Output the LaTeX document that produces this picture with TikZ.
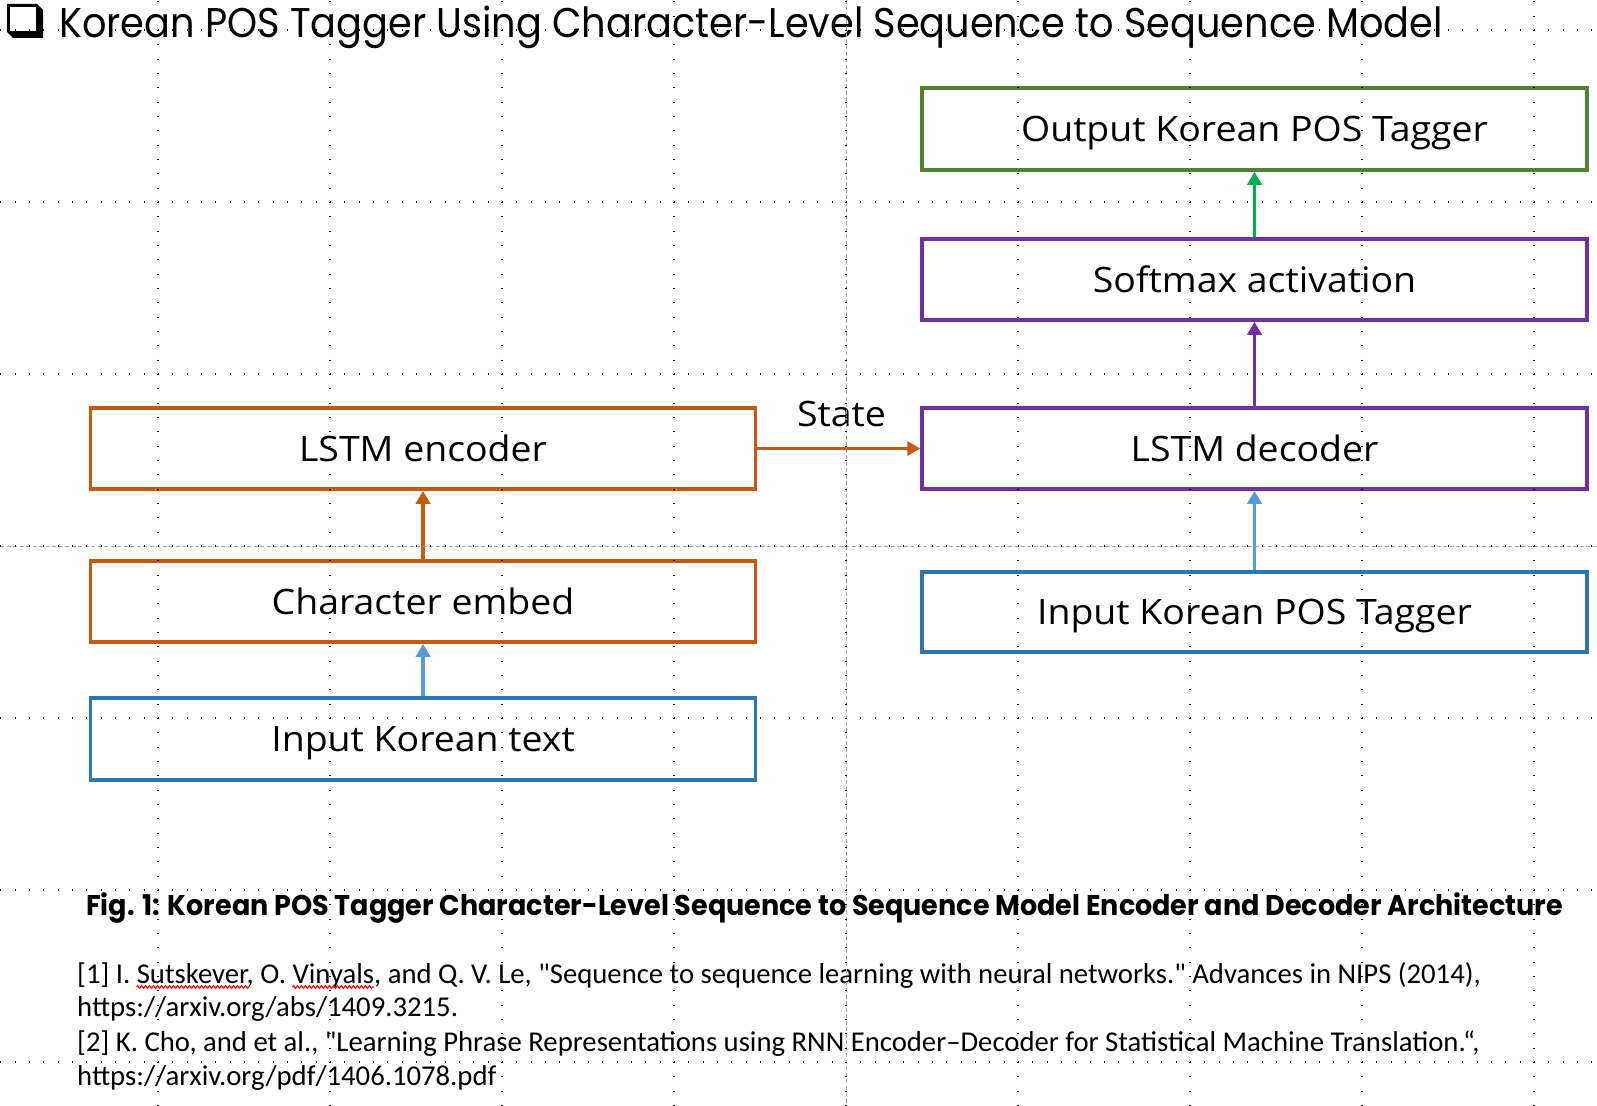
\documentclass[tikz,border=0pt]{standalone}
\usepackage{fontspec}
\setmainfont[FakeStretch=1.07]{Open Sans}
\newfontfamily\titlefont[FakeStretch=0.922]{Poppins}
\newfontfamily\capfont[FakeStretch=0.948]{Poppins}
\newfontfamily\notefont{Carlito}
\usetikzlibrary{arrows.meta,decorations.pathmorphing,calc}
\definecolor{orng}{HTML}{C55A11}
\definecolor{purp}{HTML}{7030A0}
\definecolor{gbox}{HTML}{548235}
\definecolor{garr}{HTML}{00B050}
\definecolor{bbox}{HTML}{2E75B6}
\definecolor{barr}{HTML}{5B9BD5}
\definecolor{guide}{HTML}{A6A6A6}
\definecolor{spell}{HTML}{E02020}
\newlength\sqa \newlength\sqb \newlength\sqc \newlength\sqd
\newcommand\notestyle{\notefont\fontsize{28.7}{34}\selectfont}
\settowidth\sqa{\notestyle [1] I. }
\settowidth\sqb{\notestyle Sutskever}
\settowidth\sqc{\notestyle [1] I. Sutskever, O. }
\settowidth\sqd{\notestyle Vinyals}
\begin{document}
\begin{tikzpicture}[x=1pt,y=-1pt,
  box/.style={draw, line width=3.5pt, minimum width=665pt, inner sep=0pt,
    text height=25pt, text depth=0pt, font=\fontsize{35}{42}\selectfont},
  arr/.style={line width=3.6pt, -{Triangle[width=14pt,length=13pt]}},
  griddot/.style={line width=1.1pt, dash pattern=on 1.1pt off 13.233pt},
  centdash/.style={line width=1pt, guide, dash pattern=on 4pt off 2.5pt},
  squig/.style={draw=spell, line width=1.3pt, decorate, decoration={zigzag, amplitude=1.3pt, segment length=4pt}},
  txt/.style={inner sep=0pt, anchor=base west}]
\useasboundingbox (0,0) rectangle (1597,1105);
\clip (0,0) rectangle (1597,1105);
\fill[white] (0,0) rectangle (1597,1105);

% title bullet
\fill[black] (7,4) -- (37,4) -- (43,10) -- (43,38) -- (13,38) -- (7,32) -- cycle;
\fill[white] (10,7) rectangle (36,31);
\node[txt] (title) at (59,38) {\titlefont\fontsize{41.5}{48}\selectfont Korean POS Tagger Using Character-Level Sequence to Sequence Model};

% boxes
\node[box, gbox, text=black, minimum height=82pt] (out) at (1254.5,129) {Output Korean POS Tagger};
\node[box, purp, text=black, minimum height=81pt] (soft) at (1254.5,279.5) {Softmax activation};
\node[box, purp, text=black, minimum height=81pt] (dec) at (1254.5,448.5) {LSTM decoder};
\node[box, bbox, text=black, minimum height=80pt] (inpos) at (1254.5,612) {Input Korean POS Tagger};
\node[box, orng, text=black, minimum height=81pt] (enc) at (423,448.5) {LSTM encoder};
\node[box, orng, text=black, minimum height=81pt] (emb) at (423,601.5) {Character embed};
\node[box, bbox, text=black, minimum height=82pt] (intext) at (423,739) {Input Korean text};

% arrows
\draw[arr, garr] (soft.north) -- (out.south);
\draw[arr, purp] (dec.north) -- (soft.south);
\draw[arr, barr] (inpos.north) -- (dec.south);
\draw[arr, orng] (enc.east) -- (dec.west);
\draw[arr, orng] (emb.north) -- (enc.south);
\draw[arr, barr] (intext.north) -- (emb.south);
\node[inner sep=0pt, anchor=base, font=\fontsize{35}{42}\selectfont] (state) at (841.5,426) {State};

% caption
\node[inner sep=0pt, anchor=base] (cap) at (824.5,915) {\capfont\bfseries\fontsize{28.5}{34}\selectfont Fig. 1: Korean POS Tagger Character-Level Sequence to Sequence Model Encoder and Decoder Architecture};

% references
\node[txt] (r1) at (77,983) {\notestyle [1] I. Sutskever, O. Vinyals, and Q. V. Le, "Sequence to sequence learning with neural networks." Advances in NIPS (2014),};
\node[txt] (r2) at (77,1016) {\notestyle https://arxiv.org/abs/1409.3215.};
\node[txt] (r3) at (77,1051) {\notestyle [2] K. Cho, and et al., "Learning Phrase Representations using RNN Encoder–Decoder for Statistical Machine Translation.“,};
\node[txt] (r4) at (77,1085) {\notestyle https://arxiv.org/pdf/1406.1078.pdf};
\coordinate (s1) at ($(r1.base west)+(\the\sqa,-4pt)$);
\coordinate (s2) at ($(s1)+(\the\sqb,0pt)$);
\coordinate (s3) at ($(r1.base west)+(\the\sqc,-4pt)$);
\coordinate (s4) at ($(s3)+(\the\sqd,0pt)$);
\path[squig] (s1) -- (s2);
\path[squig] (s3) -- (s4);

% guides
\foreach \gx in {158,330,502,674,1018,1190,1362,1534}
  \draw[griddot] (\gx,-142) -- (\gx,1130);
\foreach \gy in {30,202,374,718,890,1062}
  \draw[griddot] (-14,\gy) -- (1611,\gy);
\draw[centdash] (846,0) -- (846,1105);
\draw[centdash] (0,546) -- (1597,546);
\draw[griddot] (846,-142) -- (846,1130);
\draw[griddot] (-14,546) -- (1611,546);
\end{tikzpicture}
\end{document}
